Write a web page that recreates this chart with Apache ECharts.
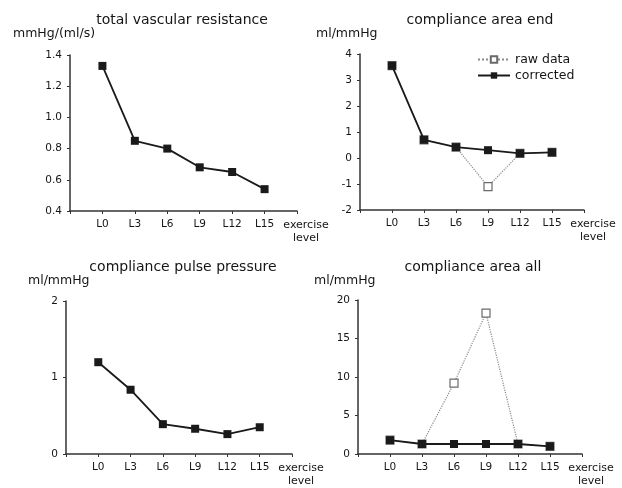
<!DOCTYPE html>
<html>
<head>
<meta charset="utf-8">
<script src="https://cdn.jsdelivr.net/npm/echarts@6/dist/echarts.min.js"></script>
<style>
    html, body { margin: 0; padding: 0; background: #fff; }
    #chart { width: 622px; height: 488px; }
</style>
</head>
<body>
<div id="chart"></div>
<script>
// 数据
var levels = ["L0", "L3", "L6", "L9", "L12", "L15"];
var resistance = [1.33, 0.85, 0.80, 0.68, 0.65, 0.54];
var areaEndRaw = [3.55, 0.70, 0.42, -1.10, 0.18, 0.22];
var areaEndCorrected = [3.55, 0.70, 0.42, 0.30, 0.18, 0.22];
var pulsePressure = [1.20, 0.84, 0.39, 0.33, 0.26, 0.35];
var areaAllRaw = [1.8, 1.3, 9.2, 18.3, 1.3, 1.0];
var areaAllCorrected = [1.8, 1.3, 1.3, 1.3, 1.3, 1.0];

var titles = ["total vascular resistance", "compliance area end", "compliance pulse pressure", "compliance area all"];
var units = ["mmHg/(ml/s)", "ml/mmHg", "ml/mmHg", "ml/mmHg"];
var yMin = [0.4, -2, 0, 0];
var yMax = [1.4, 4, 2, 20];
var yStep = [0.2, 1, 1, 5];

var font = "DejaVu Sans";
var ink = "#151515";

var grids = [
    { left: 70, top: 55, width: 227, height: 156 },
    { left: 360, top: 54, width: 224, height: 156 },
    { left: 66, top: 301, width: 226, height: 154 },
    { left: 358, top: 300, width: 224, height: 156 }
];
var titlePos = [[182, 20], [480, 20], [183, 267], [473, 267]];
var unitPos = [[13, 34], [316, 34], [28, 281], [314, 281]];

// 两端留空类目，让 L0 与 L15 离开坐标轴
var cats = [""].concat(levels).concat([""]);
function pad(arr) {
    return ["-"].concat(arr).concat(["-"]);
}

function initAxes() {
    var xAxis = [], yAxis = [];
    for (var i = 0; i < 4; i++) {
        xAxis.push({
            type: "category",
            gridIndex: i,
            data: cats,
            boundaryGap: false,
            name: "exercise\nlevel",
            nameLocation: "end",
            nameGap: 9,
            nameTextStyle: {
                fontFamily: font, fontSize: 11, color: ink,
                align: "center", verticalAlign: "top", lineHeight: 13,
                padding: [8, 0, 0, 0]
            },
            axisLine: { onZero: false, lineStyle: { color: "#333", width: 1.5 } },
            axisTick: { show: true, interval: 0, length: 3, lineStyle: { color: "#333" } },
            axisLabel: { interval: 0, margin: 8, fontFamily: font, fontSize: 10.5, color: ink },
            splitLine: { show: false }
        });
        yAxis.push({
            type: "value",
            gridIndex: i,
            min: yMin[i],
            max: yMax[i],
            interval: yStep[i],
            axisLine: { show: true, lineStyle: { color: "#333", width: 1.5 } },
            axisTick: { show: true, length: 3, lineStyle: { color: "#333" } },
            axisLabel: {
                margin: 8, fontFamily: font, fontSize: 10.5, color: ink,
                formatter: i == 0 ? function (v) { return v.toFixed(1); } : "{value}"
            },
            splitLine: { show: false }
        });
    }
    return { x: xAxis, y: yAxis };
}

function solidSeries(name, idx, data) {
    return {
        name: name, type: "line", xAxisIndex: idx, yAxisIndex: idx,
        data: pad(data), z: 3,
        symbol: "rect", symbolSize: 8,
        lineStyle: { color: "#1a1a1a", width: 1.8 },
        itemStyle: { color: "#1a1a1a" }
    };
}

function rawSeries(name, idx, data) {
    return {
        name: name, type: "line", xAxisIndex: idx, yAxisIndex: idx,
        data: pad(data), z: 2,
        symbol: "rect", symbolSize: 8,
        lineStyle: { color: "#8a8a8a", width: 1.2, type: "dotted" },
        itemStyle: { color: "#fff", borderColor: "#6a6a6a", borderWidth: 1.2 }
    };
}

function initTexts() {
    var list = [];
    for (var i = 0; i < 4; i++) {
        list.push({
            type: "text", x: titlePos[i][0], y: titlePos[i][1],
            style: { text: titles[i], font: "14px " + font, fill: ink, align: "center", verticalAlign: "middle" }
        });
        list.push({
            type: "text", x: unitPos[i][0], y: unitPos[i][1],
            style: { text: units[i], font: "12.5px " + font, fill: ink, align: "left", verticalAlign: "middle" }
        });
    }
    return list;
}

var container = echarts.init(document.getElementById("chart"));
var axes = initAxes();
var option = {
    backgroundColor: "#fff",
    animation: false,
    grid: grids,
    xAxis: axes.x,
    yAxis: axes.y,
    legend: {
        data: ["raw data", "corrected"],
        orient: "vertical",
        left: 472,
        top: 48,
        itemWidth: 32,
        itemHeight: 8,
        itemGap: 3,
        textStyle: { fontFamily: font, fontSize: 12.5, color: ink }
    },
    graphic: initTexts(),
    series: [
        solidSeries("resistance", 0, resistance),
        rawSeries("raw data", 1, areaEndRaw),
        solidSeries("corrected", 1, areaEndCorrected),
        solidSeries("pulse pressure", 2, pulsePressure),
        rawSeries("raw data", 3, areaAllRaw),
        solidSeries("corrected", 3, areaAllCorrected)
    ]
};
container.setOption(option);
</script>
</body>
</html>
